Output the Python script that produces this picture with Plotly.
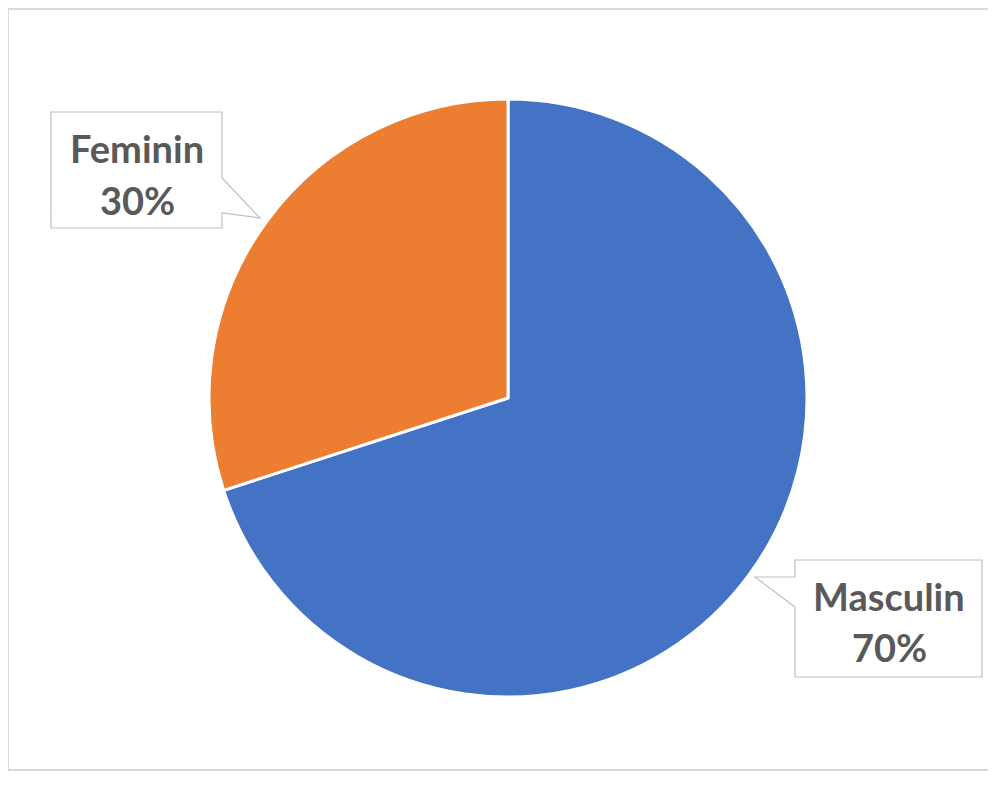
import plotly.graph_objects as go

labels = ["Masculin", "Feminin"]
values = [70, 30]
colors = ["#4472C4", "#ED7D31"]

# page has an 8px body margin; build the figure in page-pixel coordinates
OFF = 8
W, H = 996 - OFF, 785 - OFF
def px(x): return (x - OFF) / W
def py(y): return 1 - (y - OFF) / H

def path(points):
    return "M " + " L ".join(f"{px(x):.5f},{py(y):.5f}" for x, y in points) + " Z"

cx, cy, r = 508, 398, 299

fig = go.Figure(go.Pie(
    labels=labels, values=values, sort=False, direction="clockwise", rotation=0,
    marker=dict(colors=colors, line=dict(color="white", width=3)),
    textinfo="none", hoverinfo="label+percent", showlegend=False,
    domain=dict(x=[px(cx - r), px(cx + r)], y=[py(cy + r), py(cy - r)]),
))

total = sum(values)
pct = {l: f"{round(v * 100 / total)}%" for l, v in zip(labels, values)}

shapes = [
    dict(type="rect", xref="paper", yref="paper", x0=px(8), x1=px(991), y0=py(9), y1=py(770),
         line=dict(color="#D9D9D9", width=2), fillcolor="rgba(0,0,0,0)", layer="below"),
    dict(type="path", xref="paper", yref="paper",
         path=path([(51, 112), (222, 112), (222, 178), (260, 218), (222, 213), (222, 228), (51, 228)]),
         line=dict(color="#BFBFBF", width=1.2), fillcolor="white", layer="above"),
    dict(type="path", xref="paper", yref="paper",
         path=path([(795, 560), (982, 560), (982, 677), (795, 677), (795, 607), (755, 577), (795, 577)]),
         line=dict(color="#BFBFBF", width=1.2), fillcolor="white", layer="above"),
]

font = dict(family="Lato", size=38, color="#595959", weight="bold")
annotations = [
    dict(xref="paper", yref="paper", x=px(137), y=py(148), text=labels[1], showarrow=False, font=font,
         xanchor="center", yanchor="middle"),
    dict(xref="paper", yref="paper", x=px(137), y=py(200), text=pct[labels[1]], showarrow=False, font=font,
         xanchor="center", yanchor="middle"),
    dict(xref="paper", yref="paper", x=px(889), y=py(596), text=labels[0], showarrow=False, font=font,
         xanchor="center", yanchor="middle"),
    dict(xref="paper", yref="paper", x=px(889), y=py(647), text=pct[labels[0]], showarrow=False, font=font,
         xanchor="center", yanchor="middle"),
]

fig.update_layout(
    width=W, height=H, margin=dict(l=0, r=0, t=0, b=0),
    paper_bgcolor="white", plot_bgcolor="white",
    shapes=shapes, annotations=annotations,
)

fig.write_html("out.html")
